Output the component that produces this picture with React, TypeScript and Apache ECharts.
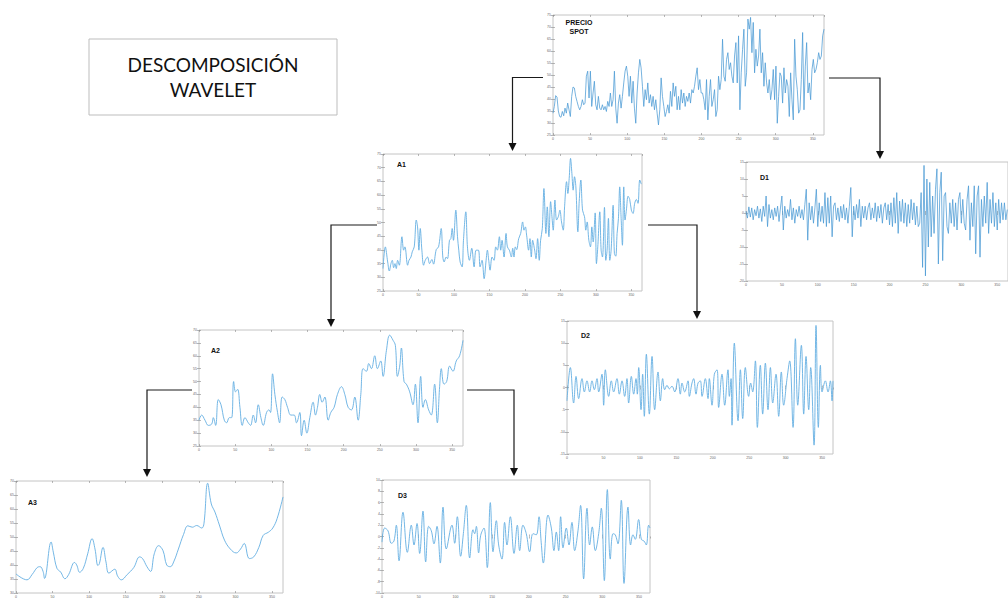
import React, { useEffect, useRef } from "react";
import * as echarts from "echarts";

const dayMax = 365;
const dayTickStep = 50;

// PRECIO SPOT, evenly sampled over the year
const spotValues = [
  34.1, 36.9, 41.4, 40.8, 35.0, 32.7, 32.4, 34.8, 33.0, 36.2, 34.1, 38.3, 35.5, 32.7, 41.1, 45.0, 44.6, 41.1, 39.0, 36.9,
  35.5, 36.9, 39.7, 37.6, 38.3, 49.5, 51.6, 40.4, 51.6, 36.9, 42.5, 47.4, 37.6, 35.5, 41.1, 36.2, 35.5, 37.6, 35.5, 36.9,
  34.8, 39.0, 36.9, 42.5, 36.9, 39.7, 51.6, 36.2, 29.9, 38.3, 41.8, 36.2, 41.1, 46.7, 51.6, 53.7, 49.5, 41.1, 49.5, 38.3,
  47.4, 36.2, 29.9, 42.5, 50.9, 56.5, 53.0, 45.3, 36.9, 43.9, 39.7, 46.7, 38.3, 41.8, 36.9, 41.1, 35.5, 39.7, 34.1, 29.2,
  35.5, 48.8, 41.1, 36.9, 32.7, 34.8, 37.6, 34.1, 43.2, 36.9, 46.7, 41.1, 45.3, 35.5, 41.1, 35.5, 43.9, 38.3, 42.5, 36.9,
  41.1, 39.0, 42.5, 38.3, 43.9, 42.5, 45.3, 49.5, 53.0, 43.9, 48.1, 42.5, 42.5, 39.7, 35.5, 48.1, 31.3, 41.1, 48.1, 36.9,
  39.7, 43.9, 32.7, 35.5, 49.5, 43.9, 48.1, 64.9, 49.5, 47.4, 56.5, 59.3, 52.3, 55.1, 49.5, 46.7, 57.9, 63.5, 46.7, 66.3,
  35.5, 50.9, 60.7, 69.1, 45.3, 50.9, 73.3, 69.1, 74.0, 59.3, 71.9, 50.9, 60.7, 53.7, 57.9, 69.1, 50.9, 59.3, 45.3, 55.1,
  46.7, 42.5, 48.1, 39.7, 43.9, 52.3, 39.7, 53.7, 29.9, 41.1, 50.9, 49.5, 38.3, 53.0, 42.5, 48.1, 45.3, 32.7, 50.9, 39.7,
  31.3, 64.9, 49.5, 43.9, 34.1, 35.5, 48.1, 67.7, 35.5, 53.7, 63.5, 42.5, 46.7, 39.7, 52.3, 56.5, 50.9, 52.3, 55.1, 59.3,
  56.5, 57.9, 66.3, 69.1,
];

// D1, one value every two days
const d1Step = 2;
const d1Values = [
  0.5, -1.5, 1.8, -1.2, 1.5, -2, 1, -0.8, 2, -1.5, 1.2, -2.5, 2, -1, 5, -4, 2.5, -1.5, 1, -2,
  1.5, -1, 2, -2.5, 1.5, 5, -5, 2, -1.5, 1, -1, 4, -2, 1.5, -3, 1, -1, 2, -1.5, 1,
  -2, 2.5, 7, -8, 3, -2, 2, -3, 1.5, 7, -4, 3, -2.5, 2, -3, 6, -4, 4.5, -3, 5,
  -7, 2, 3, -2, 1.5, -2.5, 2, -1.5, 2.5, -2, 1.5, -3, 2, 7.5, -7, 2, -2, 2.5, -1.5, 4,
  -4, 2, -1.5, 2, -2, 1.5, 3, -2, 1.5, -1.5, 3, -2.5, 2, -1.5, 2.5, -3, 1.5, 3, -2, 2.5,
  -3.5, 3, -4, 4.5, -3, 6, -6, 3.5, -2.5, 4, -3, 3, -4, 2.5, -3, 4, -2, 3, -3.5, 2,
  -4, -3, 6, -16, 14, -18.5, 10, -10, 9, -7, 5, -6, 7, 13, -15, 6, 12, -14, 5, 6,
  -4, -6, 3, -3, 4, -4, 3, -5, 4, 6, -3, 4, -3, -5, 4, 8, -8, 3, -4, 8,
  -12, 5, 8, -13, 4, -4, 5, -3, 9, -6, 4, -3, 6, -4, 3, -5, 4, -3, 3, -2,
  3, -2, 1,
];

const a1Days = [
  0, 3.3, 6.6, 8.9, 11.2, 13.1, 15, 16.9, 18.7, 20.6, 23, 26.7, 29.1, 30.9, 34.7, 36.6, 39.4, 41.2, 44, 46.9,
  48.7, 50.6, 52.5, 54.8, 57.2, 59.5, 62.8, 65.6, 68.9, 71.2, 75, 78.3, 82, 84.3, 86.2, 89, 90.9, 93.7, 95.6, 97.5,
  99.3, 102.6, 105, 106.8, 108.7, 111.5, 113.4, 116.7, 119, 121.8, 125.1, 128.4, 131.2, 134.5, 136.8, 139.6, 142.5, 145.3, 147.1, 149,
  150.9, 153.7, 156.5, 158.9, 161.2, 164, 165.9, 167.8, 170.6, 173.4, 175.3, 178.1, 180.9, 182.8, 184.6, 186.5, 188.4, 191.2, 194, 196.8,
  198.7, 200.6, 202.4, 205.2, 207.1, 209, 210.9, 213.7, 215.6, 217.9, 220.2, 222.1, 224.5, 226.8, 229.6, 231.5, 233.8, 236.2, 238.1, 239.9,
  242.3, 244.6, 247, 249.3, 251.6, 254, 255.9, 258.7, 260.5, 262.4, 264.3, 266.2, 268, 269.9, 271.8, 274.6, 276.5, 278.8, 281.2, 284,
  285.8, 287.7, 290.1, 292.4, 294.3, 296.2, 299, 300.8, 302.7, 305.5, 307.4, 309.3, 312.1, 314, 315.8, 317.7, 319.6, 321.5, 324.3, 326.1,
  328, 329.9, 331.8, 333.6, 335.5, 337.4, 339.3, 341.1, 343, 345.4, 347.7, 350, 352.4, 354.7, 357.1, 359.4, 361.8, 364,
];
const a1Values = [
  33.2, 41.1, 35.6, 32.3, 35.0, 36.2, 33.5, 35.0, 33.2, 36.2, 34.4, 44.8, 39.9, 41.1, 34.4, 36.2, 37.4, 39.3, 41.1, 50.9,
  48.4, 39.9, 47.8, 39.9, 34.4, 36.2, 37.4, 35.0, 36.5, 34.8, 40.1, 41.1, 47.8, 37.4, 35.6, 37.4, 36.8, 43.5, 44.1, 47.8,
  43.5, 54.5, 44.8, 39.9, 35.6, 33.8, 43.5, 53.9, 41.1, 36.2, 40.6, 33.8, 39.9, 39.9, 33.8, 36.2, 29.5, 36.2, 39.9, 36.2,
  32.6, 37.4, 36.2, 41.1, 39.9, 44.8, 39.9, 43.5, 37.4, 46.0, 41.1, 39.9, 37.4, 40.6, 37.4, 41.1, 40.1, 44.1, 46.0, 50.2,
  47.2, 48.4, 45.4, 39.9, 44.1, 37.4, 43.5, 39.9, 36.8, 44.1, 36.2, 43.5, 47.8, 62.4, 46.0, 55.7, 44.8, 57.6, 52.1, 47.2,
  58.2, 50.9, 52.1, 54.5, 50.2, 47.2, 55.7, 64.9, 60.6, 66.1, 73.4, 67.9, 61.8, 66.7, 63.0, 46.6, 57.6, 65.5, 54.5, 52.1,
  47.2, 50.2, 43.5, 41.1, 48.4, 42.9, 53.5, 35.0, 41.1, 53.9, 39.9, 37.4, 55.5, 36.2, 39.9, 51.5, 36.2, 39.9, 56.3, 38.7,
  37.7, 46.0, 51.5, 63.0, 52.1, 41.7, 63.0, 50.9, 54.5, 59.6, 58.4, 54.5, 53.3, 57.0, 58.4, 57.0, 65.5, 64,
];

const d2Days = [
  0, 4.6, 9.1, 12.4, 16, 20.6, 23.8, 27.4, 31.1, 34.3, 37.5, 41.2, 43.5, 48, 50.3, 52.6, 57.2, 60.8, 64, 68.6,
  71.8, 75.5, 79.1, 82.3, 84.6, 88.3, 91.5, 94.7, 96.5, 98.4, 101.6, 103.8, 106.1, 108.9, 113, 116.7, 120.3, 124.9, 128.1, 131.3,
  134, 137.2, 140.4, 144.1, 147.8, 152.3, 155.5, 157.8, 161.5, 166.1, 167.9, 171.5, 173.8, 177, 179.8, 183, 185.3, 189.8, 193.5, 195.3,
  199, 202.2, 205.9, 208.1, 212.7, 216.4, 220.9, 222.8, 225.1, 226.4, 229.6, 234.7, 237.9, 241.1, 244.7, 249.3, 252, 254.8, 258.5, 261.2,
  265.3, 268.5, 272.2, 275.8, 279.1, 282.3, 286.8, 290.5, 294.1, 297.3, 301.9, 305.6, 310.2, 313.4, 316.6, 321.6, 324.8, 328, 331.7, 334.4,
  339, 341.7, 344.9, 347.7, 350, 354.5, 358.2, 361.4, 363.7, 365,
];
const d2Values = [
  -3, 4.5, -3.5, 2.5, -2.5, 2, -1, 1.5, -1, 1.5, -0.5, 2, -1, 3, -4, 4, -2, 1.5, -1, 2,
  -1.5, 1.5, -2, 2, -3.5, 2.5, -1.5, 2, -1.5, 4.5, -5, 3, -6.5, 7.5, -6, 7, -5, 3.5, -3, 2,
  -0.5, 0.5, -0.3, 0.3, -1, 2, -1.5, 1, -1, 1.5, -2, 1, 2, -1.5, 1, 1.5, -2, 2, -2.5, 2,
  -4, 3, 4, -4.5, 3, -4, 4, -2, 2, -8.5, 10, -7.5, 4, -7, 4.5, -2, 1, -1, 6, -9,
  5, -6, 5.5, -5, 4.5, -3.5, 3, -6.5, 3.5, -4, 2, 6, -9, 11, -4, 9.5, -6, 7, -5, 4.5,
  -13, 14, -9, 5, -1, 1.5, -1, 1.5, -3, 1.5,
];

const a2Days = [
  0, 3.7, 8.3, 12.9, 17.5, 19.8, 23, 26.7, 30.4, 35, 38.2, 41.9, 45.1, 47.9, 50.6, 53.4, 56.6, 59.8, 63.5, 68.1,
  71.3, 75, 78.2, 81.9, 85.6, 88.8, 93.4, 96.6, 98.9, 101.7, 104.9, 108.6, 111.4, 115, 118.7, 122.4, 127, 131.6, 134.8, 139.4,
  141.7, 145.4, 149.1, 153.2, 157.8, 161.1, 163.8, 167, 170.3, 174, 178.6, 182.2, 186.8, 191.4, 197, 201.6, 206.2, 210.8, 215.4, 220,
  223.7, 226.9, 231.5, 234.7, 238.4, 243, 246.7, 251.3, 254.5, 259.1, 263.7, 268.3, 271.5, 274.3, 277.5, 279.8, 283.5, 286.7, 291.3, 295.9,
  299.1, 302.8, 306.5, 309.7, 312.9, 317.5, 321.2, 325.8, 329.5, 332.7, 335, 338.7, 342.4, 346.5, 351.1, 355.7, 360.3, 365,
];
const a2Values = [
  35, 37, 35, 33, 33.5, 36, 33, 43, 41, 35, 34, 36, 36, 50, 46, 47, 40, 33, 36, 34,
  33, 37, 34, 41, 36, 33, 38, 39, 38, 53, 45, 38, 34, 44, 43, 40, 37, 37, 34, 38,
  29, 35, 30, 36, 42, 37, 40, 45, 42, 44, 35, 38, 40, 45, 48, 45, 40, 39, 44, 35,
  45, 55, 54, 57, 55, 60, 55, 58, 52, 62, 68, 66, 64, 52, 56, 63, 50, 49, 46, 41,
  49, 34, 52, 40, 43, 39, 37, 49, 34, 48, 55, 49, 50, 56, 54, 58, 60, 66,
];

const d3Days = [
  0, 3.6, 8.2, 12.7, 16.3, 19.5, 23.2, 28.6, 34.5, 39.9, 43.6, 47.7, 51.3, 55.8, 59.5, 63.5, 67.2, 70.8, 74.9, 79.4,
  83.1, 87.6, 95.3, 99, 102.6, 107.1, 110.8, 114.8, 119.4, 123.9, 126.2, 128.5, 131.6, 134.4, 138.9, 143.4, 147.5, 151.2, 155.7, 158.9,
  163.4, 167, 170.2, 174.8, 179.8, 184.3, 187.5, 192, 196.5, 201.1, 205.6, 210.2, 213.8, 216.8, 219.7, 226.1, 230.6, 234.2, 237.4, 240.6,
  243.3, 246.5, 251, 254.7, 258.7, 262.4, 266.9, 270.5, 274.6, 279.2, 282.8, 286.4, 290.5, 295.1, 298.7, 302.8, 306.9, 310.9, 314.6, 317.7,
  321.4, 325.9, 329.6, 335, 338.6, 341.8, 345, 349.5, 353.2, 356.8, 360, 363.1, 365,
];
const d3Values = [
  -1, 1.5, 1, -1.2, -0.8, 2, -4.3, 4.3, -2.8, 2, -1.5, 2.3, -3, 4.5, -4.5, 1.8, 1, -1.3, 1.8, -4.7,
  5.2, -2.2, 2, -1.2, 3.5, -3.5, 0.5, 5.5, -3.8, 1.2, 0.5, 1.8, -2.9, 0.2, 1.5, -5.5, 6, -2.7, 2.8, -1.5,
  -4, 2.5, -1.5, 3.5, -3, 2, -2.5, 2, 0.5, -2.7, 0.5, 0.3, 3.5, -1, -4.7, 3.8, 1.5, -2.5, 0.8, -2.5,
  3.5, -2, 1.5, -1.5, 2.5, -2.5, 1, 5.5, -7.5, 5, -1.5, 1.7, -2.5, 0.5, 5, -7.8, 8.3, -4, 0.5, 0.3,
  -1.3, 6.4, -8.3, 5.2, -1.5, 0.3, -0.5, 3, -0.5, -0.8, -1.5, 2, 1.5,
];

const a3Days = [
  0, 15, 22, 29, 33, 37, 39, 48, 51, 56, 61, 67, 72, 80, 83, 87, 92, 98, 104, 108,
  112, 114, 119, 123, 127, 135, 139, 144, 152, 161, 169, 173, 179, 184, 189, 195, 201, 206, 211, 216,
  222, 229, 235, 241, 247, 254, 257, 262, 267, 272, 278, 285, 293, 301, 307, 312, 319, 325, 332, 338,
  345, 351, 357, 365,
];
const a3Values = [
  36.8, 34.7, 36.6, 39.1, 39.4, 37.7, 35.2, 48.2, 44.6, 38.8, 37.5, 35.1, 36.6, 40.9, 40, 37.4, 38.8, 44, 49.4, 45.7,
  39.8, 40.5, 46.3, 41.1, 37.1, 38.5, 36, 34.7, 36.6, 39.1, 42.9, 42.3, 39.4, 37.7, 44, 46.9, 45.1, 40, 39.4, 41.4,
  45.7, 50.9, 54, 53.5, 54.1, 53.2, 54.9, 69.2, 61.8, 58.9, 54.3, 48.9, 45.7, 44.3, 45.7, 47.7, 42.3, 42.9, 46.3, 50.6,
  51.7, 53.2, 56.6, 64.3,
];

const titleLines = ["DESCOMPOSICIÓN", "WAVELET"];

export default function App() {
  const ref = useRef<HTMLDivElement>(null);

  useEffect(() => {
    if (!ref.current) return;
    const chart = echarts.init(ref.current, undefined, { renderer: "svg" });

    const pairs = (days: number[], vals: number[]) => days.map((d, i) => [d, vals[i]]);
    const panels = [
      { name: "PRECIO\nSPOT", left: 553, top: 15, width: 271, height: 120, yMin: 25, yMax: 75, yStep: 5, lx: 579, ly: 27, center: true,
        data: spotValues.map((v, i) => [(i * dayMax) / (spotValues.length - 1), v]), smooth: false, lw: 0.75, color: "#4a9ad4" },
      { name: "A1", left: 383, top: 154, width: 259, height: 137, yMin: 25, yMax: 75, yStep: 5, lx: 397, ly: 164,
        data: pairs(a1Days, a1Values), smooth: 0.35, lw: 0.9, color: "#64afe2" },
      { name: "D1", left: 746, top: 162, width: 272, height: 119, yMin: -20, yMax: 15, yStep: 5, lx: 760, ly: 177,
        data: d1Values.map((v, i) => [i * d1Step, v]), smooth: false, lw: 0.75, color: "#4a9ad4" },
      { name: "A2", left: 199, top: 330, width: 264, height: 116, yMin: 25, yMax: 70, yStep: 5, lx: 211, ly: 350,
        data: pairs(a2Days, a2Values), smooth: 0.4, lw: 0.9, color: "#64afe2" },
      { name: "D2", left: 567, top: 321, width: 266, height: 133, yMin: -15, yMax: 15, yStep: 5, lx: 581, ly: 335,
        data: pairs(d2Days, d2Values), smooth: 0.4, lw: 0.9, color: "#64afe2" },
      { name: "A3", left: 16, top: 481, width: 267, height: 116, yMin: 30, yMax: 70, yStep: 5, lx: 28, ly: 502,
        data: pairs(a3Days, a3Values), smooth: 0.4, lw: 0.9, color: "#64afe2" },
      { name: "D3", left: 382, top: 480, width: 268, height: 117, yMin: -10, yMax: 10, yStep: 2, lx: 398, ly: 495,
        data: pairs(d3Days, d3Values), smooth: 0.4, lw: 0.9, color: "#64afe2" },
    ];

    const tick = { show: true, inside: true, length: 2, lineStyle: { color: "#8a8a8a", width: 0.6 } };
    const lbl = { fontSize: 3.5, color: "#666", margin: 2, fontFamily: "Liberation Sans" };
    const grids: any[] = [];
    const xAxes: any[] = [];
    const yAxes: any[] = [];
    const series: any[] = [];
    panels.forEach((p, i) => {
      grids.push({ left: p.left, top: p.top, width: p.width, height: p.height, show: true,
        borderColor: "#c4c4c4", borderWidth: 1, backgroundColor: "#fff" });
      const xb = { type: "value", gridIndex: i, min: 0, max: dayMax, interval: dayTickStep, splitLine: { show: false }, axisLine: { show: false } };
      xAxes.push({ ...xb, position: "bottom", axisTick: tick, axisLabel: { ...lbl, showMaxLabel: false } });
      xAxes.push({ ...xb, position: "top", axisTick: tick, axisLabel: { show: false } });
      const yb = { type: "value", gridIndex: i, min: p.yMin, max: p.yMax, interval: p.yStep, splitLine: { show: false }, axisLine: { show: false } };
      yAxes.push({ ...yb, position: "left", axisTick: tick, axisLabel: lbl });
      yAxes.push({ ...yb, position: "right", axisTick: tick, axisLabel: { show: false } });
      series.push({ type: "line", xAxisIndex: 2 * i, yAxisIndex: 2 * i, data: p.data, showSymbol: false, smooth: p.smooth,
        lineStyle: { color: p.color, width: p.lw }, clip: true, silent: true });
    });

    const arrows = [
      [[543, 77.5], [512.5, 77.5], [512.5, 151]],
      [[829, 78], [880, 78], [880, 159]],
      [[377, 225], [331, 225], [331, 327]],
      [[648, 225], [697, 225], [697, 319]],
      [[192, 390], [147, 390], [147, 477]],
      [[467, 390], [514, 390], [514, 476]],
    ];
    const graphic: any[] = [];
    graphic.push({ type: "rect", shape: { x: 89, y: 39, width: 248, height: 76 }, style: { fill: "#fff", stroke: "#bdbdbd", lineWidth: 1 }, z: 10 });
    titleLines.forEach((t, i) => {
      graphic.push({ type: "text", x: 213, y: 64 + i * 25, z: 11,
        style: { text: t, fill: "#111", fontSize: 19, fontFamily: "Lato", textAlign: "center", textVerticalAlign: "middle" } });
    });
    arrows.forEach((a) => {
      const [p0, p1, p2] = a;
      graphic.push({ type: "polyline", z: 12, shape: { points: [p0, p1, [p2[0], p2[1] - 6]] },
        style: { stroke: "#1a1a1a", lineWidth: 1.2, fill: null } });
      graphic.push({ type: "polygon", z: 12, shape: { points: [[p2[0] - 4, p2[1] - 8], [p2[0] + 4, p2[1] - 8], [p2[0], p2[1]]] },
        style: { fill: "#111" } });
    });
    panels.forEach((p) => {
      graphic.push({ type: "text", x: p.lx, y: p.ly, z: 12,
        style: { text: p.name, fill: "#111", fontSize: 7, fontWeight: "bold", fontFamily: "Liberation Sans",
          textAlign: p.center ? "center" : "left", textVerticalAlign: "middle", lineHeight: 9 } });
    });

    chart.setOption({
      animation: false,
      backgroundColor: "#fff",
      grid: grids,
      xAxis: xAxes,
      yAxis: yAxes,
      series,
      graphic,
    });
    return () => chart.dispose();
  }, []);

  return <div ref={ref} style={{ position: "fixed", left: 0, top: 0, width: 1008, height: 599 }} />;
}
